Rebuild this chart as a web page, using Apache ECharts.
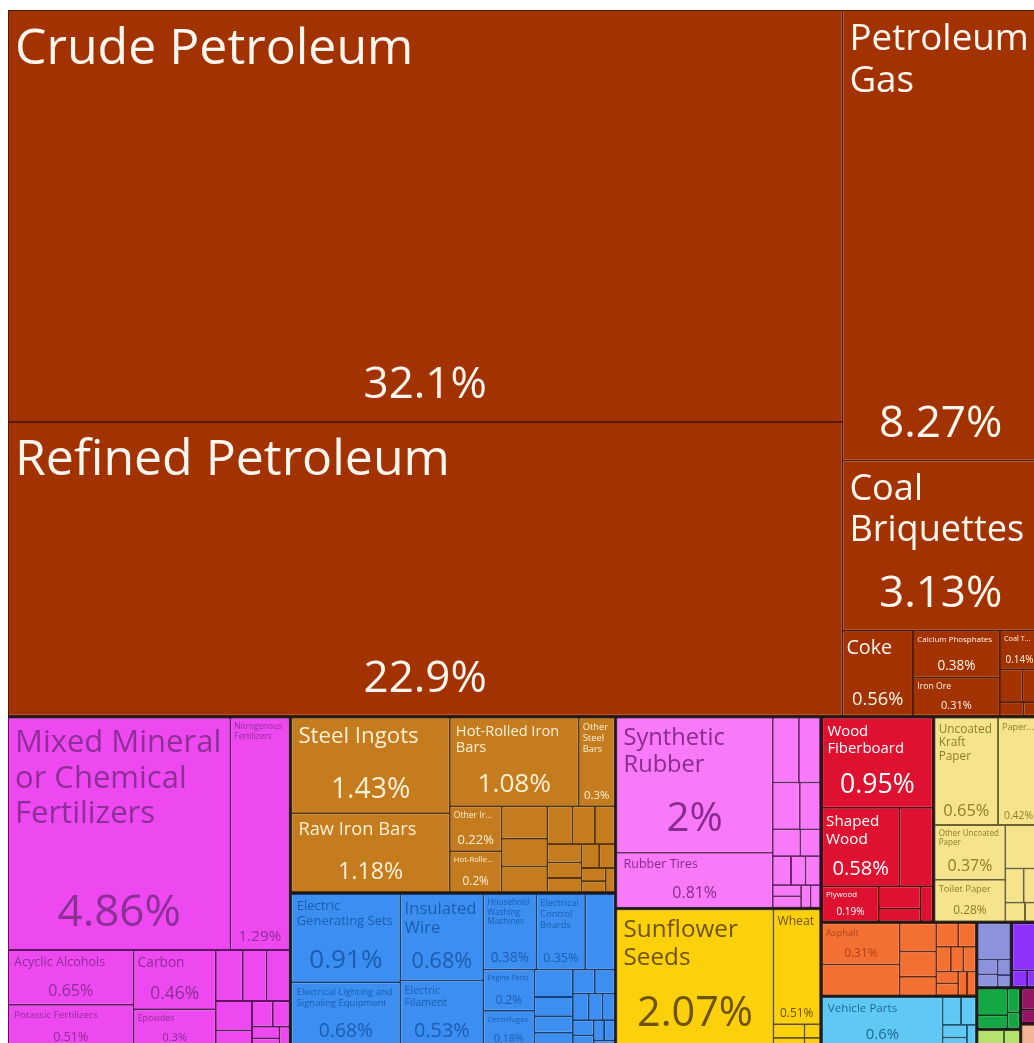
<!DOCTYPE html>
<html>
<head>
<meta charset="utf-8">
<script src="https://cdn.jsdelivr.net/npm/echarts@6/dist/echarts.min.js"></script>
<style>
html,body{margin:0;padding:0;background:#ffffff;}
#chart{width:1034px;height:1043px;}
</style>
</head>
<body>
<div id="chart"></div>
<script>
// ---------------- data (share of exports, %) ----------------
const mineralNames = ['Crude Petroleum','Refined Petroleum','Petroleum Gas','Coal Briquettes','Coke','Calcium Phosphates','Iron Ore','Coal Tar Oil','Lignite','Petroleum Coke','Sulphur','Petroleum Jelly'];
const mineralValues = [32.1,22.9,8.27,3.13,0.56,0.38,0.31,0.14,0.07,0.05,0.03,0.02];

const chemicalNames = ['Mixed Mineral or Chemical Fertilizers','Nitrogenous Fertilizers','Acyclic Alcohols','Potassic Fertilizers','Carbon','Epoxides','Ammonia','Phosphatic Fertilizers','Nitrogen Heterocyclic Compounds','Polyacetals','Inorganic Salts','Cyclic Hydrocarbons','Sulfuric Acid','Soap','Synthetic Coloring Matter','Carboxylic Acids'];
const chemicalValues = [4.86,1.29,0.65,0.51,0.46,0.3,0.13,0.115,0.11,0.1,0.06,0.05,0.04,0.03,0.025,0.02];

const metalNames = ['Steel Ingots','Raw Iron Bars','Hot-Rolled Iron Bars','Other Steel Bars','Other Iron Bars','Hot-Rolled Iron','Ferroalloys','Iron Pipes','Semi-Finished Iron','Coated Flat-Rolled Iron','Raw Aluminium','Iron Blocks','Copper Wire','Large Flat-Rolled Iron','Raw Nickel','Iron Wire','Scrap Iron','Aluminium Plating','Refined Copper','Steel Wire'];
const metalValues = [1.43,1.18,1.08,0.3,0.22,0.2,0.14,0.12,0.11,0.09,0.08,0.07,0.06,0.05,0.045,0.04,0.035,0.03,0.025,0.02];

const machineNames = ['Electric Generating Sets','Insulated Wire','Electrical Lighting and Signaling Equipment','Electric Filament','Household Washing Machines','Electrical Control Boards','Electric Motors','Engine Parts','Centrifuges','Air Pumps','Valves','Low-voltage Protection Equipment','Electrical Transformers','Liquid Pumps','Computers','Refrigerators','Ball Bearings','Excavation Machinery','Telephones','Gas Turbines','Electric Batteries','Other Heating Machinery','Industrial Fans'];
const machineValues = [0.91,0.68,0.68,0.53,0.38,0.35,0.21,0.2,0.18,0.1,0.07,0.06,0.055,0.05,0.045,0.04,0.035,0.03,0.03,0.025,0.02,0.02,0.015];

const plasticNames = ['Synthetic Rubber','Rubber Tires','Ethylene Polymers','Propylene Polymers','Plastic Lids','Rubber Belts','Styrene Polymers','Vinyl Chloride Polymers','Raw Plastic Sheeting','Other Rubber Products','Acrylic Polymers','Plastic Pipes','Rubber Inner Tubes','Vulcanised Rubber Thread','Hard Rubber'];
const plasticValues = [2,0.81,0.16,0.13,0.12,0.09,0.07,0.05,0.05,0.04,0.04,0.03,0.03,0.02,0.02];

const vegetableNames = ['Sunflower Seeds','Wheat','Barley','Rapeseed','Flax Seeds','Buckwheat'];
const vegetableValues = [2.07,0.51,0.04,0.03,0.02,0.015];

const woodNames = ['Wood Fiberboard','Shaped Wood','Sawn Wood','Plywood','Veneer Sheets','Particle Board','Wood Charcoal'];
const woodValues = [0.95,0.58,0.25,0.19,0.09,0.05,0.04];

const paperNames = ['Uncoated Kraft Paper','Paper Containers','Other Uncoated Paper','Toilet Paper','Kraft Paper','Paperboard','Coated Paper','Paper Labels','Cigarette Paper'];
const paperValues = [0.65,0.42,0.37,0.28,0.14,0.06,0.05,0.035,0.025];

const stoneNames = ['Asphalt','Glass Fibers','Cement','Float Glass','Glass Bottles','Refractory Bricks','Mica','Gypsum','Building Stone','Ceramic Tiles','Glass Balls','Safety Glass','Abrasive Powder','Stone Articles'];
const stoneValues = [0.31,0.23,0.1,0.09,0.065,0.05,0.04,0.035,0.03,0.03,0.025,0.025,0.02,0.02];

const transportNames = ['Vehicle Parts','Delivery Trucks','Cars','Railway Cargo Containers','Tractors','Aircraft Parts'];
const transportValues = [0.6,0.05,0.04,0.03,0.025,0.02];

const instrumentNames = ['Medical Instruments','Optical Fibers','Measuring Instruments','Thermostats','Electrical Power Meters'];
const instrumentValues = [0.12,0.03,0.025,0.02,0.015];

const textileNames = ['Non-Knit Womens Suits','Synthetic Filament Yarn','Knit Sweaters'];
const textileValues = [0.13,0.025,0.02];

const foodNames = ['Seed Oils','Baked Goods','Chocolate','Animal Food'];
const foodValues = [0.08,0.04,0.03,0.02];

const animalNames = ['Frozen Fish','Crustaceans'];
const animalValues = [0.05,0.03];

const hideNames = ['Raw Hides','Leather Footwear'];
const hideValues = [0.04,0.025];

const miscNames = ['Jewellery'];
const miscValues = [0.045];

// ---------------- styles per group ----------------
const groups = [
  {name:'Mineral Products', names:mineralNames, values:mineralValues, color:'#a23300', border:'#561a02', text:'#fff6ef'},
  {name:'Chemical Products', names:chemicalNames, values:chemicalValues, color:'#ee48f0', border:'#5e1463', text:'#8c2f96'},
  {name:'Metals', names:metalNames, values:metalValues, color:'#c47c1e', border:'#5a3508', text:'#fdf0d5'},
  {name:'Machines', names:machineNames, values:machineValues, color:'#3c8ff0', border:'#143f78', text:'#1c5db0'},
  {name:'Plastics and Rubbers', names:plasticNames, values:plasticValues, color:'#f87af8', border:'#6e2470', text:'#8a2b8f'},
  {name:'Vegetable Products', names:vegetableNames, values:vegetableValues, color:'#fcd00a', border:'#6a5204', text:'#6e5206'},
  {name:'Wood Products', names:woodNames, values:woodValues, color:'#de1230', border:'#600610', text:'#ffffff'},
  {name:'Paper Goods', names:paperNames, values:paperValues, color:'#f5e48c', border:'#6e6230', text:'#8f7d28'},
  {name:'Stone And Glass', names:stoneNames, values:stoneValues, color:'#f37032', border:'#6e2a0c', text:'#b0421a'},
  {name:'Transportation', names:transportNames, values:transportValues, color:'#5fc8f5', border:'#1e5670', text:'#1d6a98'},
  {name:'Instruments', names:instrumentNames, values:instrumentValues, color:'#8c92dc', border:'#363a70', text:'#2a2f70'},
  {name:'Textiles', names:textileNames, values:textileValues, color:'#8c32fa', border:'#2e0a60', text:'#ffffff'},
  {name:'Foodstuffs', names:foodNames, values:foodValues, color:'#14a844', border:'#064018', text:'#ffffff'},
  {name:'Animal Products', names:animalNames, values:animalValues, color:'#b4e46e', border:'#4a6a20', text:'#3a5a10'},
  {name:'Animal Hides', names:hideNames, values:hideValues, color:'#961464', border:'#3a0626', text:'#ffffff'},
  {name:'Precious Metals', names:miscNames, values:miscValues, color:'#f6b496', border:'#7a4a38', text:'#7a3a20'}
];

const FONT = '"Open Sans", "Noto Sans", "DejaVu Sans", sans-serif';
const ctx = document.createElement('canvas').getContext('2d');
function tw(t, fs) { ctx.font = fs + 'px ' + FONT; return ctx.measureText(t).width; }
function fmt(v) { return String(+v.toFixed(2)); }

function wrapText(text, fs, maxW) {
  const words = text.split(' ');
  const lines = []; let cur = '';
  for (const w of words) {
    if (tw(w, fs) > maxW) return null;
    const t = cur ? cur + ' ' + w : w;
    if (tw(t, fs) <= maxW) cur = t; else { lines.push(cur); cur = w; }
  }
  if (cur) lines.push(cur);
  return lines;
}

function makeLabel(name, value, sz, color) {
  if (!sz || value < 0.14 || sz.w < 32.5 || sz.h < 32) return {show:false};
  const w = sz.w, h = sz.h;
  const pct = fmt(value) + '%';
  const padL = Math.max(3, Math.min(6, w * 0.04));
  const availW = w - 2 * padL - 2;
  const pfs = Math.min(44, h / 3.3, 0.75 * w / (tw(pct, 100) / 100));
  const maxH = Math.min(h * 0.5, h - pfs * 1.85 - 4);
  let nfs = null, lines = null;
  for (let fs = Math.min(50, h / 4.2); fs >= 6.5; fs -= 0.25) {
    const l = wrapText(name, fs, availW);
    if (l && l.length * fs * 1.15 <= maxH) { nfs = fs; lines = l; break; }
  }
  if (!nfs) { nfs = Math.max(6.5, Math.min(9, h / 5)); lines = [name]; }
  const padT = 2 + nfs * 0.15;
  const nameH = lines.length * nfs * 1.15;
  const pctTop = h - 1.4 * pfs;
  const spacer = Math.max(0.5, pctTop - padT - nameH);
  const text = lines.map(l => '{n|' + l + '}').join('\n') + '\n{s| }\n{p|' + pct + '}';
  return {
    show: true,
    position: 'insideTopLeft',
    padding: [padT, padL, 0, padL],
    overflow: 'truncate',
    ellipsis: '...',
    formatter: text,
    rich: {
      n: {fontSize: nfs, lineHeight: nfs * 1.15, color: color, fontFamily: FONT},
      s: {fontSize: 1, lineHeight: spacer, height: spacer},
      p: {fontSize: pfs, lineHeight: pfs * 1.2, color: color, fontFamily: FONT, align: 'center'}
    }
  };
}

function buildData(sizes) {
  return groups.map(g => ({
    name: g.name,
    itemStyle: {color: g.color, borderColor: g.border},
    children: g.names.map((n, i) => ({
      name: n,
      value: g.values[i],
      itemStyle: {color: g.color},
      label: sizes ? makeLabel(n, g.values[i], sizes[n], g.text) : {show: false}
    }))
  }));
}

function buildOption(sizes) {
  return {
    animation: false,
    tooltip: {show: false},
    series: [{
      type: 'treemap',
      left: 8, top: 10, width: 1031, height: 1038,
      roam: false,
      nodeClick: false,
      sort: 'desc',
      visibleMin: 0,
      breadcrumb: {show: false},
      label: {show: true, position: 'insideTopLeft'},
      upperLabel: {show: false},
      emphasis: {disabled: true},
      levels: [
        {itemStyle: {borderColor: '#1e1816', borderWidth: 0, gapWidth: 2}},
        {itemStyle: {borderWidth: 1, gapWidth: 2}},
        {itemStyle: {borderWidth: 0, gapWidth: 0}}
      ],
      data: buildData(sizes)
    }]
  };
}

const chart = echarts.init(document.getElementById('chart'), null, {renderer: 'canvas'});
chart.setOption(buildOption(null));
try {
  const data = chart.getModel().getSeriesByIndex(0).getData();
  const sizes = {};
  for (let i = 0; i < data.count(); i++) {
    const l = data.getItemLayout(i);
    if (l) sizes[data.getName(i)] = {w: l.width, h: l.height};
  }
  chart.setOption(buildOption(sizes), {notMerge: true});
} catch (e) {
  console.error(e);
}
</script>
</body>
</html>
